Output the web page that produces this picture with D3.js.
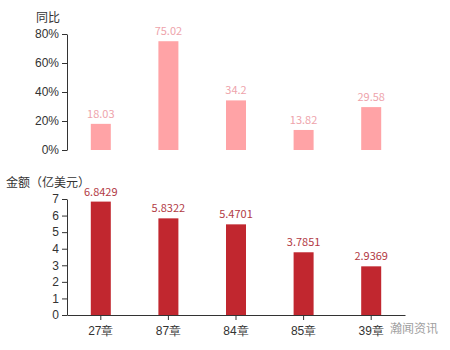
<!DOCTYPE html>
<html lang="zh">
<head>
<meta charset="UTF-8">
<script src="https://d3js.org/d3.v7.min.js"></script>
<style>
  html, body { margin: 0; padding: 0; background: #fff; }
  svg { display: block; font-family: "Noto Sans CJK SC", "Microsoft YaHei", sans-serif; }
</style>
</head>
<body>
<svg id="chart" width="450" height="350"></svg>
<script>
const categories = ["27章", "87章", "84章", "85章", "39章"];
const yoyValues = [18.03, 75.02, 34.2, 13.82, 29.58];
const amountValues = [6.8429, 5.8322, 5.4701, 3.7851, 2.9369];
const yoyTicks = [0, 20, 40, 60, 80];
const amountTicks = [0, 1, 2, 3, 4, 5, 6, 7];

const svg = d3.select("#chart");
const left = 67, right = 405;

const x = d3.scaleBand().domain(categories).range([left, right]);
const barW = 20;

// top panel: 同比
const yTop = d3.scaleLinear().domain([0, 80]).range([150, 34]);

svg.append("g")
  .attr("transform", `translate(${left},0)`)
  .call(d3.axisLeft(yTop).tickValues(yoyTicks).tickFormat(d => d + "%").tickSize(5).tickSizeOuter(0))
  .call(g => g.select(".domain").attr("stroke", "#333"))
  .call(g => g.selectAll(".tick line").attr("stroke", "#333"))
  .call(g => g.selectAll("text").attr("fill", "#333").attr("font-size", 12));

svg.append("text").attr("x", 36).attr("y", 22)
  .attr("font-size", 12).attr("fill", "#333").text("同比");

svg.append("g").selectAll("rect").data(yoyValues).join("rect")
  .attr("x", (d, i) => x(categories[i]) + x.bandwidth() / 2 - barW / 2)
  .attr("y", d => yTop(d))
  .attr("width", barW)
  .attr("height", d => yTop(0) - yTop(d))
  .attr("fill", "#ffa3a6");

svg.append("g").selectAll("text").data(yoyValues).join("text")
  .attr("x", (d, i) => x(categories[i]) + x.bandwidth() / 2)
  .attr("y", d => yTop(d) - 6)
  .attr("text-anchor", "middle")
  .attr("font-size", 11)
  .attr("fill", "#eea3ab")
  .text(d => d);

// bottom panel: 金额
const yBot = d3.scaleLinear().domain([0, 7]).range([315, 199]);

svg.append("g")
  .attr("transform", `translate(${left},0)`)
  .call(d3.axisLeft(yBot).tickValues(amountTicks).tickFormat(d3.format("d")).tickSize(5).tickSizeOuter(0))
  .call(g => g.select(".domain").attr("stroke", "#333"))
  .call(g => g.selectAll(".tick line").attr("stroke", "#333"))
  .call(g => g.selectAll("text").attr("fill", "#333").attr("font-size", 12));

svg.append("g")
  .attr("transform", "translate(0,315)")
  .call(d3.axisBottom(x).tickSize(5).tickSizeOuter(0))
  .call(g => g.select(".domain").attr("stroke", "#333"))
  .call(g => g.selectAll(".tick line").attr("stroke", "#333"))
  .call(g => g.selectAll("text").attr("fill", "#333").attr("font-size", 12).attr("dy", "1em"));

svg.append("text").attr("x", 6).attr("y", 187)
  .attr("font-size", 12).attr("fill", "#333").text("金额（亿美元）");

svg.append("g").selectAll("rect").data(amountValues).join("rect")
  .attr("x", (d, i) => x(categories[i]) + x.bandwidth() / 2 - barW / 2)
  .attr("y", d => yBot(d))
  .attr("width", barW)
  .attr("height", d => yBot(0) - yBot(d))
  .attr("fill", "#c1272f");

svg.append("g").selectAll("text").data(amountValues).join("text")
  .attr("x", (d, i) => x(categories[i]) + x.bandwidth() / 2)
  .attr("y", d => yBot(d) - 6)
  .attr("text-anchor", "middle")
  .attr("font-size", 11)
  .attr("fill", "#b23a44")
  .text(d => d);

// watermark
svg.append("text").attr("x", 414).attr("y", 333)
  .attr("text-anchor", "middle").attr("font-size", 12)
  .attr("fill", "#888").attr("opacity", 0.8).text("瀚闻资讯");
</script>
</body>
</html>
